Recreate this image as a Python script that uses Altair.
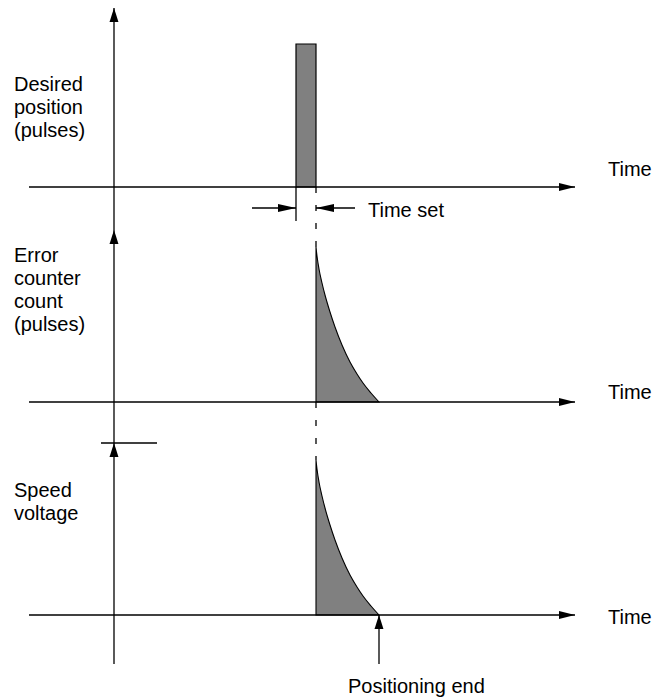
import altair as alt
import pandas as pd

# ---- diagram data (time units: 0 = vertical axis; level units: upward) ----
panel_names = ["Desired position", "Error counter count", "Speed voltage"]
panel_base = [505, 290, 77]            # level of each time axis
axis_tip_level = [684, 462, 249]       # level of each vertical arrow tip
axis_start_t = -85
axis_end_t = 461
vaxis_bottom = 28

pulse_t = [182, 202]                   # command pulse start / end
pulse_height = 143

decay_offset_t = [0, 1, 3, 6, 9, 14, 19, 26, 34, 41, 47, 55, 63]
decay_value = [155, 146, 133, 119, 107, 90, 75, 57, 40, 28, 19, 9, 0]

limit_bar_t = [-13, 43]                # short bar on speed voltage axis

timeset_level = 484
timeset_left_t = 138
timeset_right_t = 241
timeset_tick_bottom = 471

settle_t = 265                         # positioning end time

label_lines = [["Desired", "position", "(pulses)"],
               ["Error", "counter", "count", "(pulses)"],
               ["Speed", "voltage"]]
label_first_level = [601, 430, 195]
line_pitch = 23
label_t = -100
time_label_t = 494
time_label_level = [516, 293, 68]

FONT = "Liberation Sans"
GRAY = "#808080"

xs = alt.Scale(domain=[-106, 540], nice=False, zero=False)
ys = alt.Scale(domain=[-6, 684], nice=False, zero=False)

def X(f="t"):
    return alt.X(f"{f}:Q", scale=xs, axis=None)

def Y(f="lv"):
    return alt.Y(f"{f}:Q", scale=ys, axis=None)

# ---- solid rules ----
rules = []
for b in panel_base:
    rules.append(dict(t=axis_start_t, t2=axis_end_t, lv=b, lv2=b))
rules.append(dict(t=0, t2=0, lv=axis_tip_level[0], lv2=vaxis_bottom))
rules.append(dict(t=limit_bar_t[0], t2=limit_bar_t[1], lv=axis_tip_level[2], lv2=axis_tip_level[2]))
rules.append(dict(t=timeset_left_t, t2=pulse_t[0], lv=timeset_level, lv2=timeset_level))
rules.append(dict(t=pulse_t[1], t2=timeset_right_t, lv=timeset_level, lv2=timeset_level))
rules.append(dict(t=pulse_t[0], t2=pulse_t[0], lv=panel_base[0], lv2=timeset_tick_bottom))
rules.append(dict(t=settle_t, t2=settle_t, lv=panel_base[2], lv2=vaxis_bottom))
rules_df = pd.DataFrame(rules)

dashes = [dict(t=pulse_t[1], t2=pulse_t[1], lv=panel_base[0], lv2=panel_base[1] + decay_value[0]),
          dict(t=pulse_t[1], t2=pulse_t[1], lv=panel_base[1], lv2=panel_base[2] + decay_value[0])]
dash_df = pd.DataFrame(dashes)

pulse_df = pd.DataFrame([dict(t=pulse_t[0], t2=pulse_t[1], lv=panel_base[0] + pulse_height, lv2=panel_base[0])])

curve_rows = []
for p in (1, 2):
    for dt, v in zip(decay_offset_t, decay_value):
        curve_rows.append(dict(panel=panel_names[p], t=pulse_t[1] + dt, lv=panel_base[p] + v, base=panel_base[p]))
curve_df = pd.DataFrame(curve_rows)

up_df = pd.DataFrame([dict(t=0, lv=l) for l in axis_tip_level] + [dict(t=settle_t, lv=panel_base[2])])
right_df = pd.DataFrame([dict(t=axis_end_t, lv=b) for b in panel_base])
ts_r_df = pd.DataFrame([dict(t=pulse_t[0], lv=timeset_level)])
ts_l_df = pd.DataFrame([dict(t=pulse_t[1], lv=timeset_level)])

text_rows = []
for lines, first in zip(label_lines, label_first_level):
    for i, s in enumerate(lines):
        text_rows.append(dict(t=label_t, lv=first - i * line_pitch, txt=s))
for lv in time_label_level:
    text_rows.append(dict(t=time_label_t, lv=lv, txt="Time"))
text_rows.append(dict(t=timeset_right_t + 13, lv=timeset_level - 9, txt="Time set"))
text_rows.append(dict(t=settle_t - 31, lv=-1, txt="Positioning end"))
text_df = pd.DataFrame(text_rows)

area = alt.Chart(curve_df).mark_area(fill=GRAY, stroke="black", strokeWidth=1.1,
                                     interpolate="monotone").encode(
    x=X(), y=Y(), y2="base:Q", detail="panel:N")
pulse = alt.Chart(pulse_df).mark_rect(fill=GRAY, stroke="black", strokeWidth=1.2).encode(
    x=X(), x2="t2:Q", y=Y(), y2="lv2:Q")
solid = alt.Chart(rules_df).mark_rule(color="black", strokeWidth=1.3).encode(
    x=X(), x2="t2:Q", y=Y(), y2="lv2:Q")
dashed = alt.Chart(dash_df).mark_rule(color="black", strokeWidth=1.3, strokeDash=[6, 12]).encode(
    x=X(), x2="t2:Q", y=Y(), y2="lv2:Q")

def head(df, path, size):
    return alt.Chart(df).mark_point(shape=path, size=size, filled=True, color="black",
                                    opacity=1, strokeWidth=0).encode(x=X(), y=Y())

up = head(up_df, "M0,0L0.64,2L-0.64,2Z", 196)
right = head(right_df, "M0,0L-2,-0.5L-2,0.5Z", 256)
ts_r = head(ts_r_df, "M0,0L-2,-0.44L-2,0.44Z", 324)
ts_l = head(ts_l_df, "M0,0L2,-0.44L2,0.44Z", 324)

texts = alt.Chart(text_df).mark_text(align="left", baseline="alphabetic", font=FONT,
                                     fontSize=20, color="black").encode(
    x=X(), y=Y(), text="txt:N")

chart = alt.layer(area, pulse, solid, dashed, up, right, ts_r, ts_l, texts).properties(
    width=646, height=690, padding=0, autosize="none"
).configure_view(strokeWidth=0)

chart.save("out.html", embed_options={"renderer": "svg", "actions": False})
